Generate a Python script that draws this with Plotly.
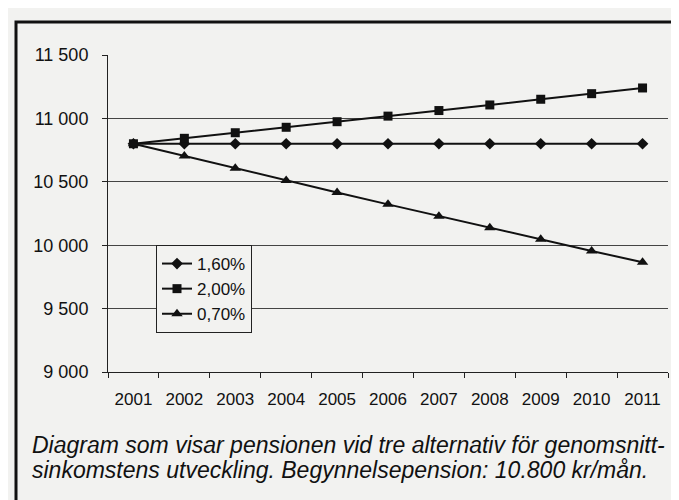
import plotly.graph_objects as go

years = ["2001", "2002", "2003", "2004", "2005", "2006", "2007", "2008", "2009", "2010", "2011"]
s_160 = [10800, 10800, 10800, 10800, 10800, 10800, 10800, 10800, 10800, 10800, 10800]
s_200 = [10800, 10843, 10887, 10930, 10974, 11018, 11062, 11106, 11151, 11195, 11240]
s_070 = [10800, 10703, 10607, 10510, 10416, 10322, 10229, 10137, 10046, 9955, 9865]
series_names = ["1,60%", "2,00%", "0,70%"]
y_ticks = [9000, 9500, 10000, 10500, 11000, 11500]
y_tick_labels = ["9 000", "9 500", "10 000", "10 500", "11 000", "11 500"]
caption_lines = [
    "Diagram som visar pensionen vid tre alternativ för genomsnitt-",
    "sinkomstens utveckling. Begynnelsepension: 10.800 kr/mån.",
]

FONT = "Liberation Sans, Arial, sans-serif"
BG = "#f2f2f0"

L, R, T, B = 100, 660, 47, 364
W, H = 679, 500

def px(x):
    return (x - L) / (R - L)

def py(y):
    return (B - y) / (B - T)

xpos = list(range(len(years)))

fig = go.Figure()
symbols = ["diamond", "square", "triangle-up"]
sizes = [9, 9, 10]
for name, vals, sym, sz in zip(series_names, [s_160, s_200, s_070], symbols, sizes):
    fig.add_trace(go.Scatter(
        x=xpos, y=vals, name=name, mode="lines+markers",
        line=dict(color="#111111", width=2),
        marker=dict(symbol=sym, size=sz, color="#111111"),
    ))

fig.update_layout(
    template="none",
    width=W, height=H,
    margin=dict(l=L, r=W - R, t=T, b=H - B),
    paper_bgcolor=BG, plot_bgcolor=BG,
    font=dict(family=FONT, size=17, color="#111111"),
    showlegend=True,
    legend=dict(
        x=px(148), y=py(237), xanchor="left", yanchor="top",
        bgcolor=BG, bordercolor="#222222", borderwidth=1,
        font=dict(family=FONT, size=17, color="#111111"),
        tracegroupgap=0,
    ),
    xaxis=dict(
        showgrid=False, showline=True, linecolor="#222222", linewidth=1,
        ticks="", tickvals=xpos, ticktext=years, ticklabelstandoff=12,
        tickfont=dict(family=FONT, size=17),
        range=[-0.5, len(years) - 0.5], zeroline=False,
        minor=dict(ticks="outside", ticklen=5, tickcolor="#222222",
                   tick0=-0.5, dtick=1, showgrid=False),
    ),
    yaxis=dict(
        range=[9000, 11500], tickvals=y_ticks, ticktext=y_tick_labels,
        showgrid=True, gridcolor="#444444", gridwidth=1,
        showline=True, linecolor="#222222", linewidth=1,
        ticks="outside", ticklen=5, tickcolor="#222222",
        ticklabelstandoff=10,
        tickfont=dict(family=FONT, size=18), zeroline=False,
    ),
)

fig.add_shape(type="rect", xref="paper", yref="paper",
              x0=px(8), x1=px(676), y0=py(494), y1=py(14),
              line=dict(color="#111111", width=3), fillcolor="rgba(0,0,0,0)",
              layer="below")

for i, line in enumerate(caption_lines):
    fig.add_annotation(
        xref="paper", yref="paper", x=px(22), y=py(437 + 25 * i),
        xanchor="left", yanchor="middle", showarrow=False,
        text="<i>" + line + "</i>",
        font=dict(family=FONT, size=23, color="#111111"),
    )

fig.write_html("out.html")
